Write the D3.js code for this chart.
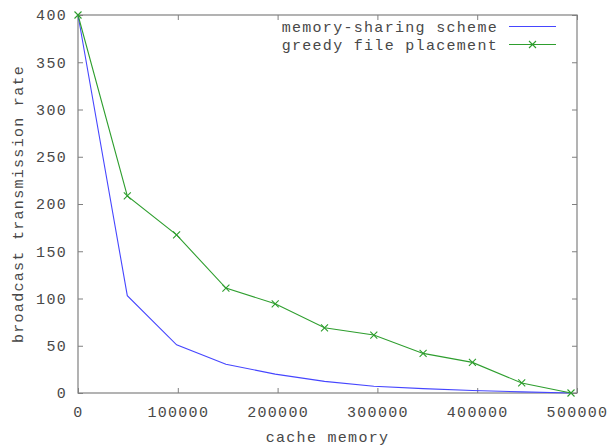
<!DOCTYPE html>
<html><head><meta charset="utf-8">
<script src="https://cdn.jsdelivr.net/npm/d3@7"></script>
<style>body{margin:0;background:#fff}text{font-family:"Liberation Mono","DejaVu Sans Mono",monospace;font-size:15px;letter-spacing:1.3px;fill:#484848}</style>
</head><body><svg id="c" width="611" height="448"></svg>
<script>
const xValues = [0, 49400, 98800, 148200, 197600, 247000, 296400, 345800, 395200, 444600, 494000];
const memorySharing = [400, 103, 51, 30.5, 20, 12.3, 7.2, 4.6, 2.6, 1.2, 0];
const greedy = [400, 208.5, 167.3, 111, 94.4, 69, 61.3, 41.9, 32.4, 10.6, 0];
const xTicks = [0, 100000, 200000, 300000, 400000, 500000];
const yTicks = [0, 50, 100, 150, 200, 250, 300, 350, 400];
const seriesNames = ["memory-sharing scheme", "greedy file placement"];
const colors = ["#4646ff", "#2e9e2e"];

const svg = d3.select("#c");
const L = 78, R = 577, T = 15, B = 393;
const x = d3.scaleLinear().domain([0, 500000]).range([L, R]);
const y = d3.scaleLinear().domain([0, 400]).range([B, T]);
const axisColor = "#808080";

svg.append("rect").attr("x", L).attr("y", T).attr("width", R - L).attr("height", B - T)
  .attr("fill", "none").attr("stroke", axisColor).attr("stroke-width", 1.2);

const tl = 5;
const gx = svg.append("g").attr("transform", `translate(0,${B})`)
  .call(d3.axisBottom(x).tickValues(xTicks).tickFormat(d3.format("d")).tickSizeInner(-tl).tickSizeOuter(0).tickPadding(13));
const gxt = svg.append("g").attr("transform", `translate(0,${T})`)
  .call(d3.axisTop(x).tickValues(xTicks).tickFormat("").tickSizeInner(-tl).tickSizeOuter(0));
const gy = svg.append("g").attr("transform", `translate(${L},0)`)
  .call(d3.axisLeft(y).tickValues(yTicks).tickSizeInner(-tl).tickSizeOuter(0).tickPadding(11));
const gyr = svg.append("g").attr("transform", `translate(${R},0)`)
  .call(d3.axisRight(y).tickValues(yTicks).tickFormat("").tickSizeInner(-tl).tickSizeOuter(0));
[gx, gxt, gy, gyr].forEach(g => {
  g.select(".domain").remove();
  g.selectAll(".tick line").attr("stroke", axisColor);
  g.attr("font-family", null).attr("font-size", null);
  g.selectAll("text").attr("fill", "#484848");
});
gx.selectAll(".tick text").attr("dy", "0.71em");

const line = d3.line().x((d, i) => x(xValues[i])).y(d => y(d));
svg.append("path").datum(memorySharing).attr("d", line).attr("fill", "none")
  .attr("stroke", colors[0]).attr("stroke-width", 1.1);
svg.append("path").datum(greedy).attr("d", line).attr("fill", "none")
  .attr("stroke", colors[1]).attr("stroke-width", 1.1);

const cross = (g, cx, cy, c) => {
  const s = 3.5;
  g.append("path").attr("d", `M${cx - s},${cy - s}L${cx + s},${cy + s}M${cx - s},${cy + s}L${cx + s},${cy - s}`)
    .attr("stroke", c).attr("stroke-width", 1.1).attr("fill", "none");
};
const mg = svg.append("g");
greedy.forEach((d, i) => cross(mg, x(xValues[i]), y(d), colors[1]));

const legY = [26.5, 44.5];
seriesNames.forEach((n, i) => {
  svg.append("text").attr("x", 498).attr("y", legY[i]).attr("dy", "0.35em")
    .attr("text-anchor", "end").text(n);
  svg.append("line").attr("x1", 509).attr("x2", 556).attr("y1", legY[i]).attr("y2", legY[i])
    .attr("stroke", colors[i]).attr("stroke-width", 1.1);
});
cross(svg, 532.5, legY[1], colors[1]);

svg.append("text").attr("x", (L + R) / 2).attr("y", 437).attr("dy", "0.35em")
  .attr("text-anchor", "middle").text("cache memory");
svg.append("text").attr("transform", `translate(18,${(T + B) / 2}) rotate(-90)`)
  .attr("dy", "0.35em").attr("text-anchor", "middle").text("broadcast transmission rate");
</script></body></html>
